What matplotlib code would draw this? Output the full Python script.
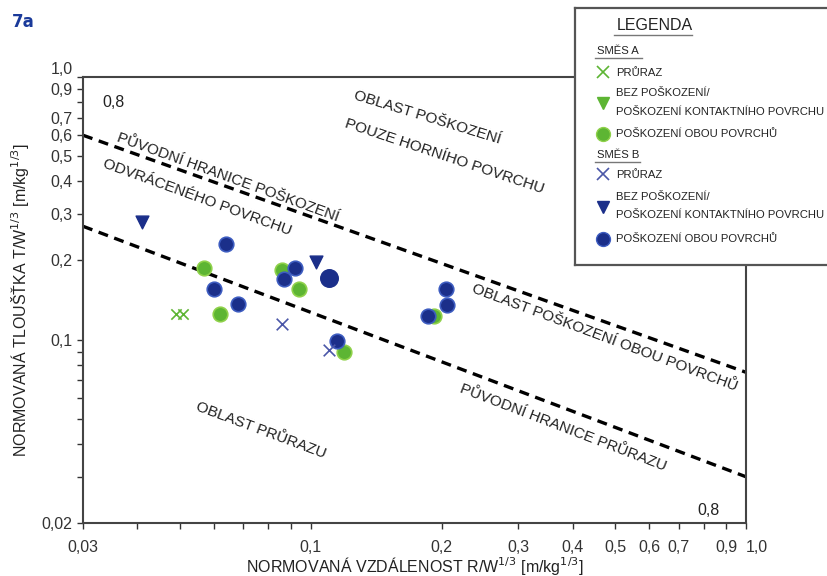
import numpy as np
import matplotlib
matplotlib.use("Agg")
import matplotlib.pyplot as plt
from matplotlib.ticker import FixedLocator, FixedFormatter, NullLocator

plt.rcParams['font.family'] = ['Liberation Sans Narrow', 'Liberation Sans', 'DejaVu Sans']

# --- data ---
# SMES A (green)
a_pruraz_x = [0.049, 0.051]
a_pruraz_y = [0.125, 0.125]
a_obou_x = [0.057, 0.062, 0.086, 0.094, 0.119, 0.192]
a_obou_y = [0.187, 0.125, 0.184, 0.156, 0.090, 0.123]

# SMES B (blue)
b_pruraz_x = [0.086, 0.110]
b_pruraz_y = [0.115, 0.091]
b_bez_x = [0.041, 0.103]
b_bez_y = [0.280, 0.197]
b_obou_x = [0.064, 0.060, 0.068, 0.092, 0.087, 0.115, 0.205, 0.206, 0.186]
b_obou_y = [0.231, 0.156, 0.137, 0.187, 0.170, 0.099, 0.156, 0.135, 0.123]
b_big_x = [0.110]
b_big_y = [0.171]

# boundary lines (x from 0.03 to 1.0)
line_x = [0.03, 1.0]
upper_y = [0.60, 0.075]
lower_y = [0.27, 0.030]

xticks = [0.03, 0.04, 0.05, 0.06, 0.07, 0.08, 0.09, 0.1, 0.2, 0.3, 0.4, 0.5,
          0.6, 0.7, 0.8, 0.9, 1.0]
xlabels = ['0,03', '', '', '', '', '', '', '0,1', '0,2', '0,3', '0,4', '0,5',
           '0,6', '0,7', '', '0,9', '1,0']
yticks = [0.02, 0.03, 0.04, 0.05, 0.06, 0.07, 0.08, 0.09, 0.1, 0.2, 0.3, 0.4,
          0.5, 0.6, 0.7, 0.8, 0.9, 1.0]
ylabels = ['0,02', '', '', '', '', '', '', '', '0,1', '0,2', '0,3', '0,4',
           '0,5', '0,6', '0,7', '', '0,9', '1,0']

GREEN = '#5db533'
GREEN_E = '#8fd14a'
BLUE = '#1b2f8a'
BLUE_E = '#3d5cc0'
BLUE_X = '#4b57a8'

W, H = 827, 576
fig = plt.figure(figsize=(W / 100, H / 100), dpi=100)


def fx(px):
    return px / W


def fy(py):
    return 1 - py / H


ax = fig.add_axes([fx(83), fy(523), fx(746) - fx(83), fy(77) - fy(523)])
ax.set_xscale('log')
ax.set_yscale('log')
ax.set_xlim(0.03, 1.0)
ax.set_ylim(0.02, 1.0)

ax.xaxis.set_major_locator(FixedLocator(xticks))
ax.xaxis.set_major_formatter(FixedFormatter(xlabels))
ax.xaxis.set_minor_locator(NullLocator())
ax.yaxis.set_major_locator(FixedLocator(yticks))
ax.yaxis.set_major_formatter(FixedFormatter(ylabels))
ax.yaxis.set_minor_locator(NullLocator())
ax.tick_params(direction='out', length=4, width=1, labelsize=11.5, colors='#333333')
ax.tick_params(axis='x', pad=8)
for s in ax.spines.values():
    s.set_color('#444444')
    s.set_linewidth(1.5)
ax.get_xticklabels()[-1].set_horizontalalignment('left')
ax.get_yticklabels()[-1].set_verticalalignment('bottom')

# boundary lines
ax.plot(line_x, upper_y, color='black', lw=2.4, ls=(0, (3, 2)))
ax.plot(line_x, lower_y, color='black', lw=2.4, ls=(0, (3, 2)))

# points
ax.scatter(a_pruraz_x, a_pruraz_y, marker='x', s=55, color=GREEN, lw=1.2, zorder=3)
ax.scatter(a_obou_x, a_obou_y, marker='o', s=110, color=GREEN, edgecolor=GREEN_E,
           lw=1.2, zorder=3)
ax.scatter(b_obou_x, b_obou_y, marker='o', s=110, color=BLUE, edgecolor=BLUE_E,
           lw=1.2, zorder=4)
ax.scatter(b_big_x, b_big_y, marker='o', s=160, color=BLUE, zorder=4)
ax.scatter(b_pruraz_x, b_pruraz_y, marker='x', s=70, color=BLUE_X, lw=1.2, zorder=5)
ax.scatter(b_bez_x, b_bez_y, marker='v', s=85, color=BLUE, zorder=4)

# region annotations
tk = dict(fontsize=11, color='#222222', ha='center', va='center')
ax.text(0.185, 0.70, 'OBLAST POŠKOZENÍ', rotation=-17, **tk)
ax.text(0.2025, 0.50, 'POUZE HORNÍHO POVRCHU', rotation=-18.5, **tk)
ax.text(0.0646, 0.416, 'PŮVODNÍ HRANICE POŠKOZENÍ', rotation=-20, **tk)
ax.text(0.0548, 0.349, 'ODVRÁCENÉHO POVRCHU', rotation=-20, **tk)
ax.text(0.474, 0.102, 'OBLAST POŠKOZENÍ OBOU POVRCHŮ', rotation=-20.5, **tk)
ax.text(0.380, 0.046, 'PŮVODNÍ HRANICE PRŮRAZU', rotation=-21, **tk)
ax.text(0.0769, 0.0452, 'OBLAST PRŮRAZU', rotation=-20.5, **tk)
ax.text(0.0332, 0.80, '0,8', fontsize=11.5, ha='left', va='center', color='#222222')
ax.text(0.819, 0.0224, '0,8', fontsize=11.5, ha='center', va='center', color='#222222')

ax.set_xlabel('NORMOVANÁ VZDÁLENOST R/W$^{1/3}$ [m/kg$^{1/3}$]', fontsize=11.5,
              color='#222222', labelpad=0)
ax.set_ylabel('NORMOVANÁ TLOUŠŤKA T/W$^{1/3}$ [m/kg$^{1/3}$]', fontsize=11.5,
              color='#222222', labelpad=8)

fig.text(fx(12), fy(22), '7a', fontsize=12, fontweight='bold', color='#1a3a9a',
         ha='left', va='center', family='DejaVu Sans')

# legend panel, laid out in pixel units
lg = fig.add_axes([fx(575), fy(265), fx(845) - fx(575), fy(8) - fy(265)])
lg.set_xlim(575, 845)
lg.set_ylim(265, 8)
lg.set_xticks([])
lg.set_yticks([])
for s in lg.spines.values():
    s.set_color('#555555')
    s.set_linewidth(1.6)
lg.set_zorder(10)

lt = dict(fontsize=8.1, color='#222222', ha='left', va='center')
lg.text(617, 25, 'LEGENDA', fontsize=11.5, color='#222222', ha='left', va='center')
lg.plot([614, 692], [35, 35], color='#777777', lw=1)
lg.text(597, 51, 'SMĚS A', **lt)
lg.plot([595, 642], [58, 58], color='#777777', lw=1)
lg.plot([603], [72], marker='x', ms=8, color=GREEN, mew=1.2, ls='none')
lg.text(616, 73, 'PRŮRAZ', **lt)
lg.plot([603], [103], marker='v', ms=9, color=GREEN, ls='none')
lg.text(616, 93, 'BEZ POŠKOZENÍ/', **lt)
lg.text(616, 112, 'POŠKOZENÍ KONTAKTNÍHO POVRCHU', **lt)
lg.plot([603], [134], marker='o', ms=10, color=GREEN, mec=GREEN_E, ls='none')
lg.text(616, 134, 'POŠKOZENÍ OBOU POVRCHŮ', **lt)
lg.text(597, 155, 'SMĚS B', **lt)
lg.plot([595, 640], [162, 162], color='#777777', lw=1)
lg.plot([603], [174], marker='x', ms=8, color=BLUE_X, mew=1.2, ls='none')
lg.text(616, 175, 'PRŮRAZ', **lt)
lg.plot([603], [207], marker='v', ms=9, color=BLUE, ls='none')
lg.text(616, 197, 'BEZ POŠKOZENÍ/', **lt)
lg.text(616, 215, 'POŠKOZENÍ KONTAKTNÍHO POVRCHU', **lt)
lg.plot([603], [239], marker='o', ms=10, color=BLUE, mec=BLUE_E, ls='none')
lg.text(616, 239, 'POŠKOZENÍ OBOU POVRCHŮ', **lt)

fig.savefig('out.png', dpi=100)
